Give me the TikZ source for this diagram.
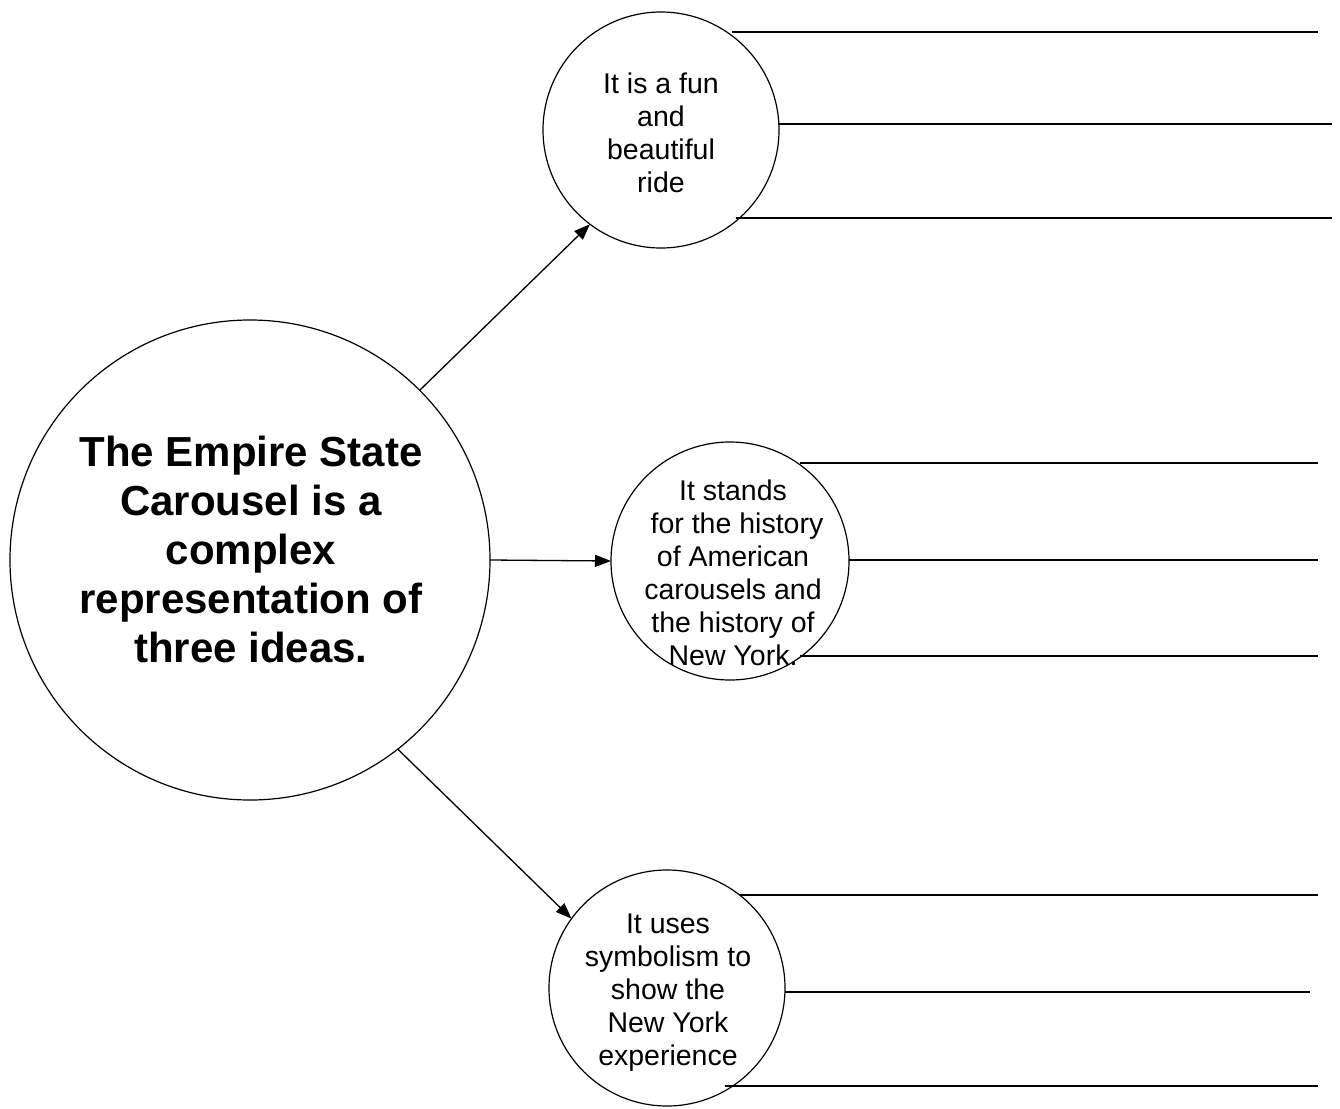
\documentclass[tikz,border=0pt]{standalone}
\usepackage{fontspec}
\setmainfont{Liberation Sans}
\usetikzlibrary{arrows.meta}
\begin{document}
\begin{tikzpicture}[x=1pt,y=-1pt,
  bubble/.style={circle,draw,line width=1.2pt,outer sep=0pt,inner sep=0pt},
  smalltext/.style={align=center,font=\fontsize{28.5}{33}\selectfont,inner sep=0pt},
  bigtext/.style={align=center,font=\fontsize{42}{49}\selectfont\bfseries,inner sep=0pt},
  conn/.style={line width=1.3pt,-{Triangle[length=16pt,width=12pt]}},
  rule/.style={line width=1.8pt}]
\useasboundingbox (0,0) rectangle (1340,1108);
% circles
\node[bubble,minimum size=480pt] (big) at (250,560) {};
\node[bubble,minimum size=236pt] (top) at (661,130) {};
\node[bubble,minimum size=238pt] (mid) at (730,561) {};
\node[bubble,minimum size=236pt] (bot) at (667,988) {};
% texts
\node[bigtext] (bigt) at (251,549) {The Empire State\\Carousel is a\\complex\\representation of\\three ideas.};
\node[smalltext] (topt) at (661,133) {It is a fun\\and\\beautiful\\ride};
\node[smalltext] (midt) at (733,573) {It stands\\\hspace*{0.28em}for the history\\of American\\carousels and\\the history of\\New York.};
\node[smalltext] (bott) at (668,993) {It uses\\symbolism to\\show the\\New York\\experience};
% arrows
\draw[conn] (big.45) -- (top.233);
\draw[conn] (big.east) -- (mid.west);
\draw[conn] (big.-52.6) -- (bot.144);
% answer lines
\coordinate (ta1) at (732,32);  \coordinate (ta2) at (1318,32);
\coordinate (tb1) at (778,124); \coordinate (tb2) at (1332,124);
\coordinate (tc1) at (736,218); \coordinate (tc2) at (1332,218);
\coordinate (ma1) at (800,463); \coordinate (ma2) at (1318,463);
\coordinate (mb1) at (849,560); \coordinate (mb2) at (1318,560);
\coordinate (mc1) at (800,656); \coordinate (mc2) at (1318,656);
\coordinate (ba1) at (740,895); \coordinate (ba2) at (1318,895);
\coordinate (bb1) at (785,992); \coordinate (bb2) at (1310,992);
\coordinate (bc1) at (725,1086); \coordinate (bc2) at (1318,1086);
\draw[rule] (ta1) -- (ta2);
\draw[rule] (tb1) -- (tb2);
\draw[rule] (tc1) -- (tc2);
\draw[rule] (ma1) -- (ma2);
\draw[rule] (mb1) -- (mb2);
\draw[rule] (mc1) -- (mc2);
\draw[rule] (ba1) -- (ba2);
\draw[rule] (bb1) -- (bb2);
\draw[rule] (bc1) -- (bc2);
\end{tikzpicture}
\end{document}
